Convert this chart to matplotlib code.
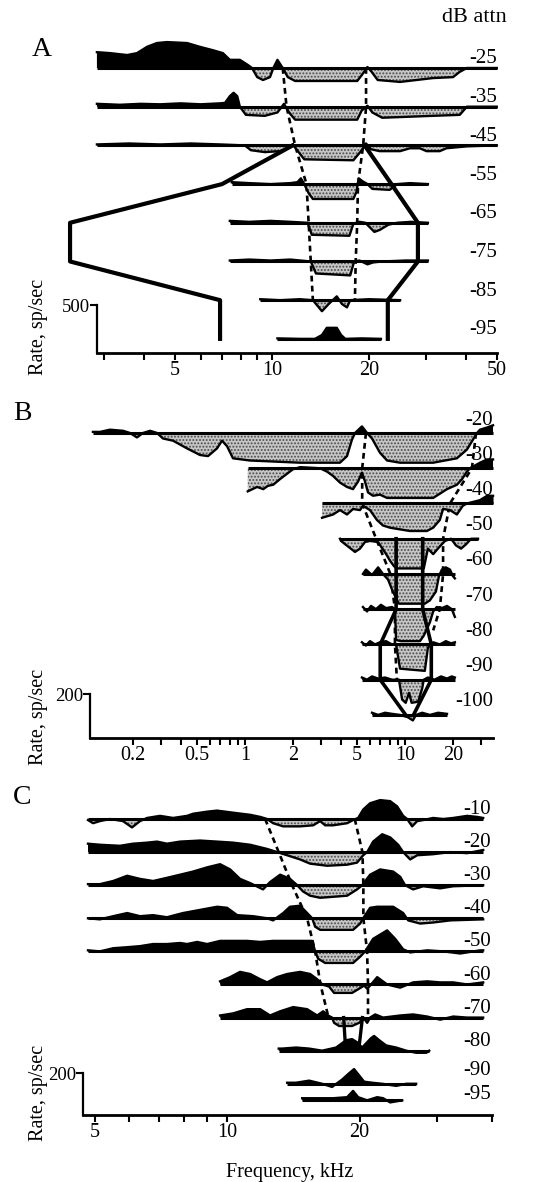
import matplotlib
matplotlib.use('Agg')
import matplotlib.pyplot as plt
import numpy as np
from matplotlib.ticker import FixedLocator, NullFormatter
from matplotlib.transforms import blended_transform_factory

plt.rcParams['font.family'] = ['Liberation Serif', 'DejaVu Serif']
plt.rcParams['hatch.linewidth'] = 0.9

# ---------------- panel A : change in rate (sp/sec) vs frequency (kHz) ----------------
a_levels = [-25, -35, -45, -55, -65, -75, -85, -95]

a25_khz = [2.86, 3.14, 3.55, 3.81, 4.09, 4.39, 4.72, 5.45, 5.98, 6.56, 7.04, 7.40, 7.95, 8.43, 8.67,
           9.00, 9.38, 9.86, 10.1, 10.4, 10.8, 11.2, 11.8, 18.4, 19.0, 19.8, 20.4, 21.3, 25.0, 31.6,
           36.5, 38.3, 40.3, 49.9]
a25_rate = [165, 155, 135, 155, 220, 260, 270, 260, 220, 185, 155, 85, 85, 30, 0,
            -95, -125, -95, 0, 85, 0, -95, -135, -135, -75, 10, -40, -125, -145, -105,
            -95, -40, 0, 0]
a35_khz = [2.86, 3.37, 3.90, 4.50, 5.20, 6.00, 6.90, 7.15, 7.40, 7.60, 7.80, 7.95, 8.30, 9.50, 10.4,
           10.9, 11.3, 11.8, 18.4, 19.0, 19.8, 20.5, 22.0, 31.6, 38.3, 40.3, 49.9]
a35_rate = [30, 20, 30, 25, 35, 25, 35, 40, 110, 145, 110, 0, -85, -95, -60,
            30, -60, -135, -135, -40, 10, -60, -115, -95, -85, 0, 0]
a45_khz = [2.86, 3.60, 4.50, 5.60, 6.90, 8.24, 8.60, 9.50, 10.6, 11.2, 11.6, 12.2, 12.6, 17.9, 18.9,
           19.6, 20.3, 21.6, 25.0, 26.8, 28.8, 30.2, 33.2, 34.8, 40.3, 49.9]
a45_rate = [10, 20, 10, 20, 10, 0, -50, -70, -60, -30, 10, -85, -145, -155, -60,
            20, -40, -60, -60, -30, -30, -60, -60, -30, -10, 0]
a55_khz = [7.50, 8.50, 9.90, 11.4, 12.0, 12.3, 12.6, 13.0, 13.4, 17.9, 18.3, 18.6, 19.1, 19.8, 20.5,
           23.2, 24.5, 26.8, 30.5]
a55_rate = [20, 10, 0, 10, 20, 60, 0, -95, -155, -155, -80, 60, 30, 0, -50, -60, 0, 10, 0]
a65_khz = [7.40, 8.50, 9.90, 11.4, 12.9, 13.3, 17.4, 17.9, 18.7, 19.5, 20.8, 21.6, 23.0, 24.5, 27.0, 30.5]
a65_rate = [20, 10, 20, 10, 0, -125, -135, -10, 10, 0, -95, -75, -20, 0, 10, 0]
a75_khz = [7.40, 8.50, 9.90, 11.4, 13.2, 13.7, 17.5, 18.0, 18.7, 19.8, 20.6, 22.0, 26.0, 30.5]
a75_rate = [10, 20, 10, 20, 0, -125, -145, 0, 10, -30, -10, 0, 10, 10]
a85_khz = [9.20, 10.6, 12.2, 13.4, 14.3, 15.0, 15.9, 16.5, 17.1, 17.5, 20.0, 25.0]
a85_rate = [10, 0, 10, 0, -115, -40, 40, -40, -75, 0, 10, 0]
a95_khz = [10.4, 12.2, 13.6, 14.3, 14.8, 15.9, 16.4, 16.9, 19.0, 21.8]
a95_rate = [5, 0, 0, 40, 115, 115, 40, 0, 5, 0]

a_inh_db = [-25, -35, -45, -55, -65, -75, -85]
a_inh_lo_khz = [10.8, 11.1, 11.8, 12.8, 13.0, 13.2, 13.4]
a_inh_hi_khz = [19.6, 19.6, 19.2, 18.5, 18.4, 18.2, 18.1]
a_bound_db = [-45, -55, -65, -75, -85, -95]
a_bound_lo_khz = [11.6, 7.0, 2.36, 2.36, 6.9, 6.9]
a_bound_hi_khz = [19.4, 23.5, 28.4, 28.4, 22.9, 22.9]

# ---------------- panel B ----------------
b_levels = [-20, -30, -40, -50, -60, -70, -80, -90, -100]

b20_khz = [0.112, 0.124, 0.143, 0.173, 0.191, 0.211, 0.230, 0.255, 0.282, 0.307, 0.355, 0.434, 0.523,
           0.587, 0.668, 0.718, 0.772, 0.841, 1.07, 2.21, 3.92, 4.34, 4.66, 4.87, 5.38, 5.79, 6.22,
           6.98, 7.72, 9.31, 15.0, 21.1, 24.4, 26.6, 28.2, 29.4, 32.6, 35.5]
b20_rate = [5, 5, 15, 10, 0, -20, 0, 10, 0, -25, -35, -70, -100,
            -105, -70, -35, -60, -115, -125, -135, -135, -105, -30, 0, 30, 0, -25,
            -90, -125, -135, -135, -115, -75, -30, 0, 15, 25, 35]
b30_khz = [1.04, 1.19, 1.30, 1.39, 1.50, 1.65, 1.83, 1.99, 2.21, 2.94, 3.25, 3.55, 3.92, 4.34, 4.73,
           5.09, 5.38, 5.62, 5.87, 6.31, 6.98, 7.72, 15.0, 18.3, 21.1, 22.7, 24.4, 25.5, 29.4, 32.6, 35.5]
b30_rate = [-105, -85, -95, -80, -75, -50, -25, -5, 5, 0, -15, -35, -65, -85, -95,
            -60, -20, -60, -110, -125, -120, -135, -135, -95, -75, -50, -15, 0, 25, 40, 40]
b40_khz = [3.03, 3.55, 3.92, 4.34, 4.73, 5.23, 5.46, 6.04, 6.68, 7.28, 8.06, 10.7, 13.7, 15.0, 16.5,
           17.3, 19.1, 21.1, 23.0, 24.4, 29.4, 32.6, 35.5]
b40_rate = [-65, -50, -30, -50, -25, -30, -10, -30, -75, -100, -110, -125, -125, -110, -75,
            -25, -30, -50, -10, 0, 15, 35, 35]
b50_khz = [3.92, 3.98, 4.40, 4.87, 5.23, 5.62, 6.04, 6.79, 7.07, 7.62, 8.06, 8.54, 8.91, 13.1, 13.9,
           15.0, 16.5, 17.8, 19.4, 20.8, 22.4, 24.1, 25.9, 28.6]
b50_rate = [0, -10, -35, -60, -45, -15, -10, -15, -35, -70, -100, -125, -135, -135, -45,
            -70, -35, -10, 0, -30, -45, -25, 0, 0]
b60_khz = [5.46, 5.70, 6.22, 6.79, 7.28, 7.83, 8.29, 8.79, 9.17, 13.3, 14.3, 15.6, 16.3, 17.0, 18.0,
           19.1, 19.95, 20.5]
b60_rate = [0, 20, -5, 30, 0, -25, -70, -110, -135, -135, -120, -80, -10, 20, 30, 20, -10, -20]
b70_khz = [5.46, 5.79, 6.13, 6.58, 7.07, 7.61, 8.29, 8.66, 8.79, 9.44, 12.4, 13.1, 14.3, 15.0, 15.8,
           17.0, 18.3, 19.6, 20.5]
b70_rate = [10, -10, 15, 0, 20, 5, 10, 0, -140, -145, -145, -120, -60, -10, 10, 5, 15, 0, -35]
b80_khz = [5.38, 5.70, 6.04, 6.49, 6.98, 7.61, 8.29, 8.79, 9.31, 13.3, 13.9, 15.0, 16.5, 18.0, 19.4, 20.5]
b80_rate = [10, -5, 15, 0, 10, 15, 0, 0, -110, -120, -15, 10, 0, 15, 5, 10]
b90_khz = [5.38, 5.79, 6.22, 6.79, 7.50, 8.29, 9.17, 9.59, 10.1, 10.6, 11.0, 12.1, 12.8, 13.1, 13.9,
           15.3, 16.8, 18.3, 19.6, 20.5]
b90_rate = [10, 0, 15, 5, 10, 0, 0, -90, -105, -60, -105, -100, -40, 0, 10, 0, 15, 5, 15, 10]
b100_khz = [6.22, 6.79, 7.50, 8.29, 9.31, 10.4, 11.2, 11.7, 12.8, 14.3, 16.1, 18.3]
b100_rate = [10, 0, 10, 5, 0, -10, -25, 0, 10, 0, 10, 5]

b_inh_lo_db = [-20, -30, -40, -50, -60, -70, -80, -90]
b_inh_lo_khz = [5.7, 5.4, 5.4, 6.6, 8.1, 8.65, 8.65, 8.9]
b_inh_hi_db = [-20, -30, -40, -50, -60, -70, -76]
b_inh_hi_khz = [27.8, 26.2, 19.1, 17.3, 17.3, 16.5, 15.0]
b_bound_db = [-50, -70, -80, -90, -100]
b_bound_lo_khz = [8.8, 8.8, 7.0, 7.0, 10.1]
b_bound_hi_khz = [12.9, 12.9, 14.6, 14.6, 11.3]

# ---------------- panel C ----------------
c_levels = [-10, -20, -30, -40, -50, -60, -70, -80, -90, -95]

c10_khz = [4.83, 4.96, 5.14, 5.42, 5.80, 6.08, 6.34, 6.58, 7.04, 7.54, 8.11, 8.37, 9.01, 9.49, 10.32,
           11.28, 11.89, 12.33, 12.72, 13.41, 14.65, 15.69, 16.27, 16.70, 17.41, 18.74, 19.33, 19.85,
           20.38, 21.13, 22.27, 23.47, 24.34, 25.12, 25.65, 26.33, 27.03, 27.89, 29.39, 30.98, 32.64,
           35.12, 37.0, 38.18]
c10_rate = [-5, -20, -10, 0, -10, -40, -10, 5, 15, 5, 15, 25, 35, 40, 30,
            20, 10, 0, -20, -35, -35, -30, -10, -30, -30, -20, -5, 5,
            45, 75, 90, 85, 60, 15, 0, -35, -10, -5, 5, 0, 5,
            15, 10, 5]
c20_khz = [4.83, 5.14, 5.71, 6.11, 6.58, 6.93, 7.30, 7.82, 8.68, 9.49, 10.32, 11.28, 12.33, 12.99, 13.69,
           14.65, 15.44, 16.88, 18.74, 19.74, 20.38, 20.81, 21.47, 22.51, 23.47, 24.47, 25.12, 26.06,
           27.03, 29.39, 32.13, 35.12, 38.18]
c20_rate = [40, 35, 30, 40, 45, 50, 40, 50, 55, 50, 45, 35, 15, 0, -15,
            -35, -55, -65, -60, -50, -15, 0, 50, 85, 70, 35, 0, -35,
            -15, -10, 0, -5, 10]
c30_khz = [4.83, 5.14, 5.51, 5.93, 6.34, 6.79, 7.30, 7.82, 8.37, 9.01, 9.64, 10.16, 10.70, 11.28, 12.07,
           12.52, 13.20, 13.90, 14.43, 14.88, 15.44, 16.27, 18.74, 19.74, 20.27, 21.13, 22.27, 23.84,
           24.73, 25.38, 26.47, 27.89, 30.49, 32.64, 38.18]
c30_rate = [5, 5, 20, 45, 30, 20, 35, 50, 65, 85, 100, 75, 30, 10, -20,
            15, 50, 30, 0, -30, -50, -60, -50, -20, 0, 50, 75, 65,
            40, 0, -20, -5, -15, -5, 0]
c40_khz = [4.83, 5.14, 5.51, 5.93, 6.34, 6.79, 7.30, 7.94, 8.68, 9.49, 10.0, 10.54, 11.46, 12.33, 12.72,
           13.41, 13.90, 14.65, 15.20, 15.61, 15.85, 16.27, 19.33, 20.06, 20.38, 21.13, 21.93, 23.84,
           25.12, 25.79, 27.46, 29.39, 32.13, 38.18]
c40_rate = [0, -5, 10, 25, 10, 15, 5, 25, 40, 55, 50, 15, 10, 0, -10,
            25, 55, 60, 25, 0, -40, -55, -55, -25, 0, 50, 55, 55,
            25, -10, -25, -20, -10, -5]
c50_khz = [4.83, 5.14, 5.51, 5.93, 6.34, 6.79, 7.30, 7.82, 8.11, 8.55, 9.01, 9.64, 10.32, 11.10, 11.89,
           12.72, 13.69, 14.65, 15.61, 15.85, 16.10, 16.70, 19.33, 20.06, 20.59, 21.47, 23.10, 24.09,
           25.12, 26.06, 28.48, 30.98, 33.85, 37.58, 38.18]
c50_rate = [5, 0, 15, 20, 25, 35, 35, 40, 35, 45, 35, 50, 50, 50, 45,
            50, 50, 50, 50, 0, -35, -55, -55, -25, 0, 60, 100, 60,
            10, -5, 5, 0, -10, 5, 5]
c60_khz = [9.64, 10.16, 10.70, 11.28, 11.89, 12.33, 12.99, 13.69, 14.65, 15.44, 16.02, 16.44, 17.05,
           17.50, 19.23, 19.95, 20.48, 20.81, 21.24, 21.93, 23.10, 24.73, 26.47, 28.48, 30.49, 32.64,
           35.12, 38.18]
c60_rate = [15, 35, 60, 50, 25, 10, 35, 50, 60, 50, 25, 0, -10,
            -40, -40, -20, -5, -20, 0, 35, 0, -15, 10, 15, 10, 10,
            0, 10]
c70_khz = [9.64, 10.32, 11.10, 11.89, 12.52, 13.20, 14.13, 15.20, 16.02, 16.53, 16.96, 17.32, 17.50,
           17.97, 19.23, 19.95, 20.48, 20.81, 21.13, 21.70, 22.62, 24.73, 26.47, 28.48, 30.49, 32.64,
           35.12, 38.18]
c70_rate = [10, 20, 40, 40, 10, 30, 50, 40, 10, 30, 10, 0, -25,
            -40, -40, -25, -5, -25, 0, 15, 0, 10, 15, 5, -10, 5,
            0, 0]
c80_khz = [13.10, 13.34, 14.35, 15.36, 16.44, 17.69, 18.64, 19.23, 19.74, 20.27, 21.24, 21.58, 22.16,
           22.98, 24.22, 25.52, 26.89, 28.34, 28.79]
c80_rate = [10, 10, 15, 10, 0, 15, 50, 55, 40, 15, 60, 70, 50, 25, 15, 0, -10, -10, 0]
c90_khz = [13.69, 14.35, 15.36, 16.44, 17.32, 18.25, 18.93, 19.43, 19.95, 20.48, 21.35, 22.51, 24.22,
           25.52, 26.89]
c90_rate = [5, 5, 15, 0, -15, 20, 50, 70, 40, 10, 5, 0, -10, 0, 0]
c95_khz = [14.81, 16.02, 17.41, 18.74, 19.33, 19.85, 20.81, 21.93, 22.62, 23.47, 25.0]
c95_rate = [10, 10, 10, 15, 45, 15, 0, 15, 10, -10, 0]

c_inh_db = [-10, -20, -30, -40, -50, -60, -70]
c_inh_lo_khz = [12.2, 13.1, 14.05, 15.2, 15.85, 16.3, 17.0]
c_inh_hi_khz = [19.5, 20.3, 20.4, 20.4, 20.8, 20.9, 20.9]
c_bound_db = [-70, -80]
c_bound_lo_khz = [18.4, 18.6]
c_bound_hi_khz = [20.3, 19.9]

a_curves = [(a25_khz, a25_rate), (a35_khz, a35_rate), (a45_khz, a45_rate), (a55_khz, a55_rate),
            (a65_khz, a65_rate), (a75_khz, a75_rate), (a85_khz, a85_rate), (a95_khz, a95_rate)]
b_curves = [(b20_khz, b20_rate), (b30_khz, b30_rate), (b40_khz, b40_rate), (b50_khz, b50_rate),
            (b60_khz, b60_rate), (b70_khz, b70_rate), (b80_khz, b80_rate), (b90_khz, b90_rate),
            (b100_khz, b100_rate)]
c_curves = [(c10_khz, c10_rate), (c20_khz, c20_rate), (c30_khz, c30_rate), (c40_khz, c40_rate),
            (c50_khz, c50_rate), (c60_khz, c60_rate), (c70_khz, c70_rate), (c80_khz, c80_rate),
            (c90_khz, c90_rate), (c95_khz, c95_rate)]

W, H = 554, 1182
fig = plt.figure(figsize=(W / 100, H / 100), dpi=100)
GRAY = '#c6c6c6'
FS = 14.5


def make_axes(box, xlim, ylim, spine_x, xmax, bar, major, labels, minor):
    l, t, r, b = box
    ax = fig.add_axes([l / W, 1 - b / H, (r - l) / W, (b - t) / H])
    ax.set_xscale('log')
    ax.set_xlim(xlim)
    ax.set_ylim(ylim)
    ax.patch.set_visible(False)
    for s in ['top', 'right']:
        ax.spines[s].set_visible(False)
    ax.spines['bottom'].set_position(('data', 0))
    ax.spines['bottom'].set_bounds(spine_x, xmax)
    ax.spines['bottom'].set_linewidth(2)
    ax.spines['left'].set_position(('data', spine_x))
    ax.spines['left'].set_bounds(0, bar)
    ax.spines['left'].set_linewidth(1.6)
    ax.xaxis.set_major_locator(FixedLocator(major))
    ax.xaxis.set_minor_locator(FixedLocator(minor))
    ax.xaxis.set_minor_formatter(NullFormatter())
    ax.set_xticklabels(labels)
    ax.set_yticks([bar])
    ax.set_yticklabels([str(bar)])
    ax.tick_params(axis='x', which='both', direction='out', length=5, width=1.5,
                   labelsize=FS, pad=1)
    ax.tick_params(axis='y', direction='out', length=5, width=1.5, labelsize=13.5, pad=0)
    return ax


def draw_panel(ax, levels, curves, top_rate, per_db, label_x, label_shift, nudge=None):
    nudge = nudge or {}

    def base(lev):
        return top_rate + (lev - levels[0]) * per_db

    tr = blended_transform_factory(fig.transFigure, ax.transData)
    for lev, (khz, rate) in zip(levels, curves):
        f = np.array(khz)
        y0 = base(lev)
        y = y0 + np.array(rate)
        ax.fill_between(f, y0, y, where=y >= y0, interpolate=True, color='black', lw=0, zorder=2)
        ax.fill_between(f, y0, y, where=y <= y0, interpolate=True, facecolor=GRAY,
                        edgecolor='#4a4a4a', hatch='.....', lw=0, zorder=2)
        ax.plot(f, y, color='black', lw=1.7, zorder=3)
        ax.hlines(y0, f[0], f[-1], color='black', lw=2.2, zorder=3)
        ax.text(label_x / W, y0 + label_shift + nudge.get(lev, 0), f'{lev}', transform=tr,
                ha='right', va='center', fontsize=15, zorder=0)
    return base


# panel A
axA = make_axes((20, 25, 540, 370), (1.65, 68.0), (-177, 3417), 2.86, 50, 500,
                [5, 10, 20, 50], ['5', '10', '20', '50'], [3, 4, 6, 7, 8, 9, 30, 40])
baseA = draw_panel(axA, a_levels, a_curves, 2969, 40.31, 497, 94)
dA = [baseA(v) for v in a_inh_db]
for fk in (a_inh_lo_khz, a_inh_hi_khz):
    axA.plot(fk, dA, color='black', lw=1.9, dashes=(2.2, 1.6), zorder=1.5)
bA = [baseA(v) for v in a_bound_db]
for fk in (a_bound_lo_khz, a_bound_hi_khz):
    axA.plot(fk, bA, color='black', lw=3.0, zorder=4)

# panel B
axB = make_axes((20, 400, 540, 745), (0.0392, 69.8), (-31.8, 1536.4), 0.107, 35.5, 200,
                [0.2, 0.5, 1, 2, 5, 10, 20], ['0.2', '0.5', '1', '2', '5', '10', '20'],
                [0.3, 0.4, 0.6, 0.7, 0.8, 0.9, 3, 4, 6, 7, 8, 9, 30])
baseB = draw_panel(axB, b_levels, b_curves, 1386.4, 16.02, 493, 59)
axB.plot(b_inh_lo_khz, [baseB(v) for v in b_inh_lo_db], color='black', lw=1.9,
         dashes=(2.2, 1.6), zorder=1.5)
axB.plot(b_inh_hi_khz, [baseB(v) for v in b_inh_hi_db], color='black', lw=1.9,
         dashes=(2.2, 1.6), zorder=1.5)
bB = [baseB(v) for v in b_bound_db]
for fk in (b_bound_lo_khz, b_bound_hi_khz):
    axB.plot(fk, bB, color='black', lw=2.6, zorder=4)

# panel C (the -90 and -95 labels sit close together, spread them a little)
axC = make_axes((20, 790, 540, 1125), (3.384, 51.4), (-47.6, 1547.6), 4.7, 40, 200,
                [5, 10, 20], ['5', '10', '20'], [6, 7, 8, 9, 30, 40])
baseC = draw_panel(axC, c_levels, c_curves, 1409.5, 15.76, 491, 45, nudge={-90: 18, -95: -18})
dC = [baseC(v) for v in c_inh_db]
for fk in (c_inh_lo_khz, c_inh_hi_khz):
    axC.plot(fk, dC, color='black', lw=1.9, dashes=(2.2, 1.6), zorder=1.5)
bC = [baseC(v) for v in c_bound_db]
for fk in (c_bound_lo_khz, c_bound_hi_khz):
    axC.plot(fk, bC, color='black', lw=2.4, zorder=4)

# text
fig.text(32 / W, 1 - 49 / H, 'A', fontsize=20, ha='left', va='center')
fig.text(13 / W, 1 - 413 / H, 'B', fontsize=20, ha='left', va='center')
fig.text(13 / W, 1 - 798 / H, 'C', fontsize=20, ha='left', va='center')
fig.text(474 / W, 1 - 18 / H, 'dB attn', fontsize=16, ha='center', va='center')
for yc in (327, 717, 1093):
    fig.text(38 / W, 1 - yc / H, 'Rate, sp/sec', fontsize=FS, rotation=90,
             ha='center', va='center')
fig.text(290 / W, 1 - 1172 / H, 'Frequency, kHz', fontsize=FS, ha='center', va='center')

fig.savefig('out.png', dpi=100)
